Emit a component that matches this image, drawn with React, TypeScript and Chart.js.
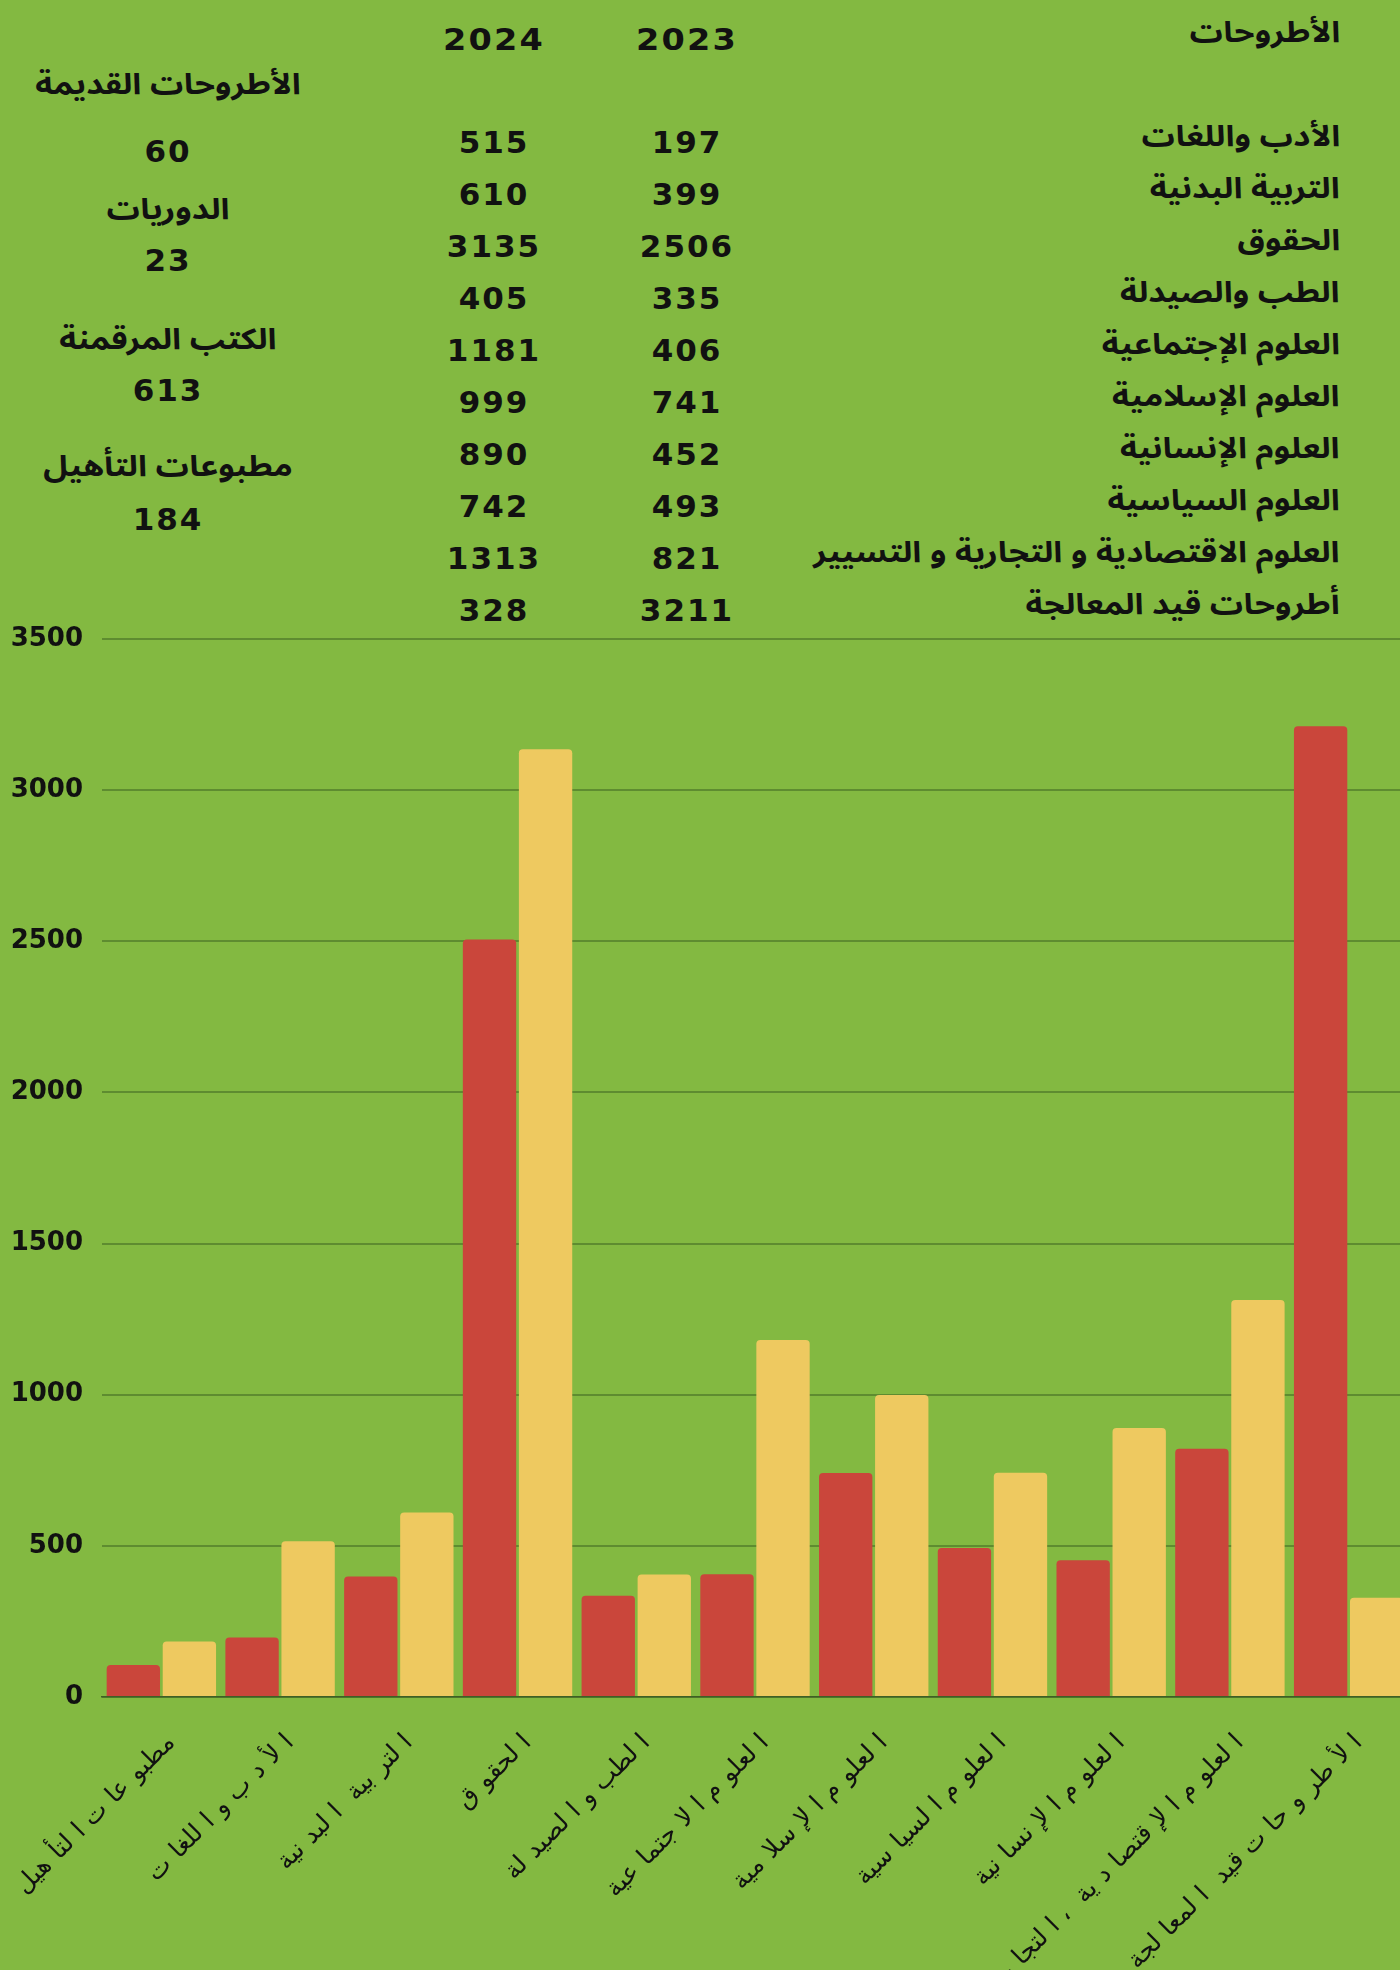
import React, { useEffect, useRef } from "react";
import { Chart, registerables } from "chart.js";

Chart.register(...registerables);

// ---------- chart data ----------
const categories = [
  "مطبوعات التأهيل",
  "الأدب واللغات",
  "التربية البدنية",
  "الحقوق",
  "الطب والصيدلة",
  "العلوم الاجتماعية",
  "العلوم الإسلامية",
  "العلوم السياسية",
  "العلوم الإنسانية",
  "العلوم الإقتصادية ، التجارية و التسيير",
  "الأطروحات قيد المعالجة",
];
const values2023 = [106, 197, 399, 2506, 335, 406, 741, 493, 452, 821, 3211];
const values2024 = [184, 515, 610, 3135, 405, 1181, 999, 742, 890, 1313, 328];
const yMin = 0;
const yMax = 3500;
const yStep = 500;

// ---------- table data ----------
const tableHeader = "الأطروحات";
const tableYears = ["2024", "2023"];
const tableRows = [
  "الأدب واللغات",
  "التربية البدنية",
  "الحقوق",
  "الطب والصيدلة",
  "العلوم الإجتماعية",
  "العلوم الإسلامية",
  "العلوم الإنسانية",
  "العلوم السياسية",
  "العلوم الاقتصادية و التجارية و التسيير",
  "أطروحات قيد المعالجة",
];
const table2023 = [197, 399, 2506, 335, 406, 741, 452, 493, 821, 3211];
const table2024 = [515, 610, 3135, 405, 1181, 999, 890, 742, 1313, 328];
const sideLabels = ["الأطروحات القديمة", "الدوريات", "الكتب المرقمنة", "مطبوعات التأهيل"];
const sideValues = [60, 23, 613, 184];

// ---------- styles ----------
const BG = "#83b941";
const RED = "#ca463b";
const YELLOW = "#eec960";
const GRID = "#5e8c30";
const AR_FONT = '"Noto Sans Arabic", "DejaVu Sans", sans-serif';
const NUM_FONT = '"DejaVu Sans", sans-serif';

const sideLabelY = [84, 209, 339, 466];
const sideValueY = [151, 260, 390, 519];

// letters that do not connect to the following letter
const NON_JOIN = "اأإآدذرزوؤةءى";

if (typeof document !== "undefined") {
  document.body.style.margin = "0";
  document.body.style.background = BG;
}

const arStyle: React.CSSProperties = {
  position: "absolute",
  fontFamily: AR_FONT,
  fontWeight: 700,
  fontSize: 29,
  lineHeight: 1,
  whiteSpace: "nowrap",
  color: "#111",
  direction: "rtl",
};
const numStyle: React.CSSProperties = {
  position: "absolute",
  fontFamily: NUM_FONT,
  fontWeight: 700,
  fontSize: 31,
  letterSpacing: 2,
  lineHeight: 1,
  whiteSpace: "nowrap",
  color: "#111",
};

function splitRuns(s: string): string[] {
  const out: string[] = [];
  let cur = "";
  for (const ch of s) {
    cur += ch;
    if (NON_JOIN.includes(ch)) {
      out.push(cur);
      cur = "";
    }
  }
  if (cur) out.push(cur);
  return out;
}

const xLabelPlugin = {
  id: "xLabelPlugin",
  afterDraw(chart: any) {
    const ctx = chart.ctx as CanvasRenderingContext2D;
    const xs = chart.scales.x;
    const bottom = chart.chartArea.bottom;
    const gap = 9;
    ctx.save();
    ctx.font = '25px "DejaVu Sans", sans-serif';
    ctx.fillStyle = "#111";
    ctx.textAlign = "right";
    ctx.textBaseline = "middle";
    ctx.direction = "rtl";
    categories.forEach((lab, i) => {
      const x = xs.getPixelForValue(i);
      ctx.save();
      ctx.translate(x + 10, bottom + 42);
      ctx.rotate(-Math.PI / 4);
      let cursor = 0;
      splitRuns(lab).forEach((run) => {
        ctx.fillText(run, cursor, 0);
        cursor -= ctx.measureText(run).width + gap;
      });
      ctx.restore();
    });
    ctx.restore();
  },
};

function BarChart() {
  const ref = useRef<HTMLCanvasElement | null>(null);
  useEffect(() => {
    if (!ref.current) return;
    const chart = new Chart(ref.current, {
      type: "bar",
      data: {
        labels: categories,
        datasets: [
          {
            label: "2023",
            data: values2023,
            backgroundColor: RED,
            borderRadius: 4,
            categoryPercentage: 0.944,
            barPercentage: 0.952,
          },
          {
            label: "2024",
            data: values2024,
            backgroundColor: YELLOW,
            borderRadius: 4,
            categoryPercentage: 0.944,
            barPercentage: 0.952,
          },
        ],
      },
      options: {
        responsive: false,
        animation: false,
        devicePixelRatio: 1,
        layout: { padding: { top: 39, bottom: 273, left: 0, right: 0 } },
        plugins: { legend: { display: false }, tooltip: { enabled: false } },
        scales: {
          x: {
            ticks: { display: false },
            grid: { display: false, drawTicks: false },
            border: { display: true, color: "#3f5f25", width: 1.5 },
            afterFit: (s: any) => {
              s.height = 0;
            },
          },
          y: {
            min: yMin,
            max: yMax,
            ticks: {
              stepSize: yStep,
              padding: 19,
              color: "#111",
              font: { family: '"DejaVu Sans", sans-serif', weight: "bold", size: 26 },
              callback: (v: any) => String(v),
            },
            grid: { color: GRID, lineWidth: 2, drawTicks: false },
            border: { display: false },
            afterFit: (s: any) => {
              s.width = 102;
            },
          },
        },
      },
      plugins: [xLabelPlugin],
    } as any);
    return () => chart.destroy();
  }, []);
  return (
    <canvas
      ref={ref}
      width={1408}
      height={1370}
      style={{ position: "absolute", left: 0, top: 600, width: 1408, height: 1370 }}
    />
  );
}

export default function App() {
  return (
    <div
      style={{
        position: "relative",
        width: 1400,
        height: 1970,
        overflow: "hidden",
        background: BG,
      }}
    >
      {/* header */}
      <div style={{ ...arStyle, right: 60, top: 32, transform: "translateY(-50%) scaleX(1.14)", transformOrigin: "right center" }}>
        {tableHeader}
      </div>
      <div style={{ ...numStyle, left: 494, top: 39, transform: "translate(-50%,-50%) scaleX(1.08)" }}>{tableYears[0]}</div>
      <div style={{ ...numStyle, left: 687, top: 39, transform: "translate(-50%,-50%) scaleX(1.08)" }}>{tableYears[1]}</div>
      {tableRows.map((r, i) => (
        <div
          key={"r" + i}
          style={{ ...arStyle, right: 60, top: 136 + 52 * i, transform: "translateY(-50%) scaleX(1.14)", transformOrigin: "right center" }}
        >
          {r}
        </div>
      ))}
      {table2024.map((v, i) => (
        <div key={"a" + i} style={{ ...numStyle, left: 494, top: 142 + 52 * i, transform: "translate(-50%,-50%)" }}>
          {v}
        </div>
      ))}
      {table2023.map((v, i) => (
        <div key={"b" + i} style={{ ...numStyle, left: 687, top: 142 + 52 * i, transform: "translate(-50%,-50%)" }}>
          {v}
        </div>
      ))}
      {sideLabels.map((s, i) => (
        <div
          key={"s" + i}
          style={{ ...arStyle, left: 168, top: sideLabelY[i], transform: "translate(-50%,-50%) scaleX(1.14)" }}
        >
          {s}
        </div>
      ))}
      {sideValues.map((v, i) => (
        <div key={"v" + i} style={{ ...numStyle, left: 168, top: sideValueY[i], transform: "translate(-50%,-50%)" }}>
          {v}
        </div>
      ))}
      <BarChart />
    </div>
  );
}
